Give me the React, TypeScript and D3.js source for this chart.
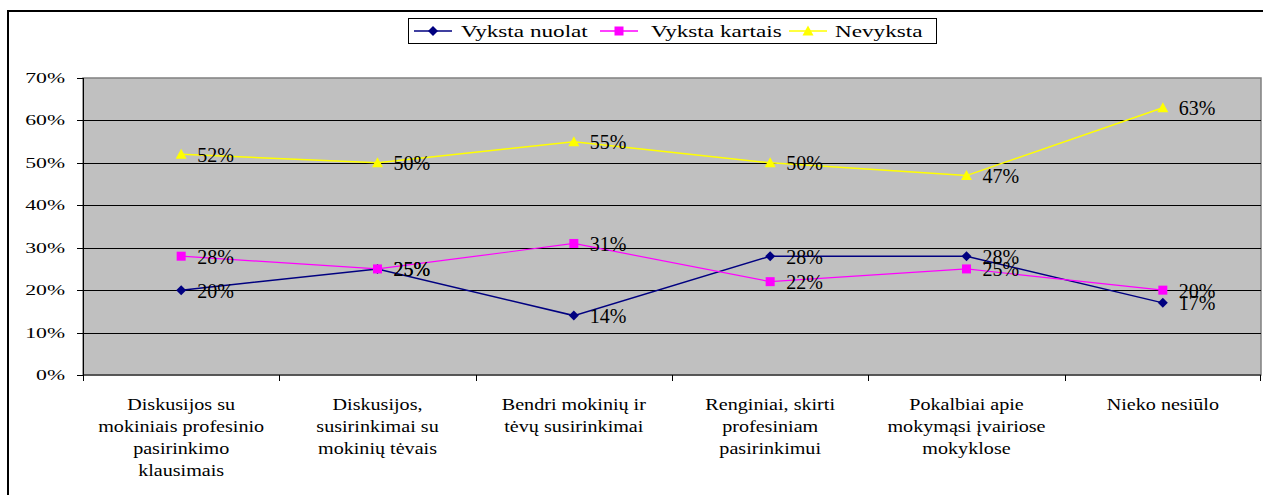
import React, { useEffect, useState } from "react";
import * as d3 from "d3";

const categories = [
  "Diskusijos su mokiniais profesinio pasirinkimo klausimais",
  "Diskusijos, susirinkimai su mokinių tėvais",
  "Bendri mokinių ir tėvų susirinkimai",
  "Renginiai, skirti profesiniam pasirinkimui",
  "Pokalbiai apie mokymąsi įvairiose mokyklose",
  "Nieko nesiūlo",
];
const categoryLines = [
  ["Diskusijos su", "mokiniais profesinio", "pasirinkimo", "klausimais"],
  ["Diskusijos,", "susirinkimai su", "mokinių tėvais"],
  ["Bendri mokinių ir", "tėvų susirinkimai"],
  ["Renginiai, skirti", "profesiniam", "pasirinkimui"],
  ["Pokalbiai apie", "mokymąsi įvairiose", "mokyklose"],
  ["Nieko nesiūlo"],
];
const vykstaNuolat = [20, 25, 14, 28, 28, 17];
const vykstaKartais = [28, 25, 31, 22, 25, 20];
const nevyksta = [52, 50, 55, 50, 47, 63];
const yTicks = [0, 10, 20, 30, 40, 50, 60, 70];

const seriesNames = ["Vyksta nuolat", "Vyksta kartais", "Nevyksta"];
const seriesColors = ["#000080", "#FF00FF", "#FFFF00"];
const seriesMarkers = ["diamond", "square", "triangle"];
const seriesValues = [vykstaNuolat, vykstaKartais, nevyksta];

const FONT = "'Liberation Serif'";
const tStyle = { fontFamily: FONT };

function Marker({ type, x, y, color }: { type: string; x: number; y: number; color: string }) {
  if (type === "diamond") {
    const s = 5;
    return <path d={`M${x},${y - s}L${x + s},${y}L${x},${y + s}L${x - s},${y}Z`} fill={color} />;
  }
  if (type === "square") {
    return <rect x={x - 4.5} y={y - 4.5} width={9} height={9} fill={color} />;
  }
  return <path d={`M${x},${y - 5.5}L${x + 5.5},${y + 4.5}L${x - 5.5},${y + 4.5}Z`} fill={color} />;
}

export default function App() {
  const [, setTick] = useState(0);
  useEffect(() => {
    const c = document.createElement("canvas").getContext("2d");
    if (c) {
      c.font = `20px 'Liberation Serif'`;
      c.measureText("Vyksta nuolat 0123%");
    }
    setTick(1);
  }, []);

  const left = 83, right = 1261, top = 78, bottom = 375;
  const x = d3.scaleBand<string>().domain(categories).range([left, right]).padding(0);
  const y = d3.scaleLinear().domain([0, 70]).range([bottom, top]);
  const cx = (c: string) => (x(c) as number) + x.bandwidth() / 2;
  const line = d3
    .line<number>()
    .x((_, i) => cx(categories[i]))
    .y((d) => y(d));

  const legendItems = [
    { lx: 414, tx: 461 },
    { lx: 600, tx: 651 },
    { lx: 789, tx: 835 },
  ];

  return (
    <svg width={1266} height={495} style={{ position: "absolute", left: 0, top: 0, background: "#fff" }}>
      <style>{`text { font-family: 'Liberation Serif', 'Times New Roman', serif; }`}</style>
      {/* outer border */}
      <path d="M8,495V11H1263" fill="none" stroke="#000" strokeWidth={2} />

      {/* plot area */}
      <rect x={left} y={top} width={right - left} height={bottom - top} fill="#C0C0C0" stroke="#808080" strokeWidth={1.5} />
      {yTicks.filter((t) => t > 0 && t < 70).map((t) => (
        <line key={t} x1={left} x2={right} y1={Math.round(y(t)) + 0.5} y2={Math.round(y(t)) + 0.5} stroke="#000" strokeWidth={1} />
      ))}
      {/* axes */}
      <line x1={left} x2={right} y1={bottom} y2={bottom} stroke="#404040" strokeWidth={1.5} />
      <line x1={left + 0.5} x2={left + 0.5} y1={top} y2={bottom} stroke="#000" strokeWidth={1} />
      {yTicks.map((t) => (
        <g key={t}>
          <line x1={77} x2={left} y1={Math.round(y(t)) + 0.5} y2={Math.round(y(t)) + 0.5} stroke="#000" strokeWidth={1} />
          <text
            transform={`translate(65,${y(t) + 5}) scale(1.45,1)`}
            textAnchor="end"
            fontSize={15}
            fill="#000"
            style={tStyle}
          >
            {t}%
          </text>
        </g>
      ))}
      {categories.map((c, i) => (
        <line key={"tk" + i} x1={Math.round(x(c) as number) + 0.5} x2={Math.round(x(c) as number) + 0.5} y1={bottom} y2={bottom + 6} stroke="#000" strokeWidth={1} />
      ))}
      <line x1={right - 0.5} x2={right - 0.5} y1={bottom} y2={bottom + 6} stroke="#000" strokeWidth={1} />

      {/* category labels */}
      {categories.map((c, i) => (
        <g key={"cl" + i}>
          {categoryLines[i].map((ln, j) => (
            <text
              key={j}
              transform={`translate(${cx(c)},${410 + j * 22}) scale(1.22,1)`}
              textAnchor="middle"
              fontSize={16.5}
              fill="#000"
              style={tStyle}
            >
              {ln}
            </text>
          ))}
        </g>
      ))}

      {/* series */}
      {seriesValues.map((vals, si) => (
        <g key={"s" + si}>
          <path d={line(vals) as string} fill="none" stroke={seriesColors[si]} strokeWidth={si === 1 ? 1.2 : 1.5} />
          {vals.map((v, i) => (
            <Marker key={i} type={seriesMarkers[si]} x={cx(categories[i])} y={y(v)} color={seriesColors[si]} />
          ))}
        </g>
      ))}
      {/* data labels */}
      {seriesValues.map((vals, si) => (
        <g key={"dl" + si}>
          {vals.map((v, i) => (
            <text key={i} x={cx(categories[i]) + 16} y={y(v) + 7.5} fontSize={20} fill="#000" style={tStyle}>
              {v}%
            </text>
          ))}
        </g>
      ))}

      {/* legend */}
      <rect x={408.5} y={18.5} width={528} height={25} fill="#fff" stroke="#000" strokeWidth={1} />
      {seriesNames.map((n, si) => (
        <g key={"lg" + si}>
          <line x1={legendItems[si].lx} x2={legendItems[si].lx + 38} y1={31} y2={31} stroke={seriesColors[si]} strokeWidth={1.5} />
          <Marker type={seriesMarkers[si]} x={legendItems[si].lx + 19} y={31} color={seriesColors[si]} />
          <text transform={`translate(${legendItems[si].tx},37) scale(1.45,1)`} fontSize={16} fill="#000" style={tStyle}>
            {n}
          </text>
        </g>
      ))}
    </svg>
  );
}
